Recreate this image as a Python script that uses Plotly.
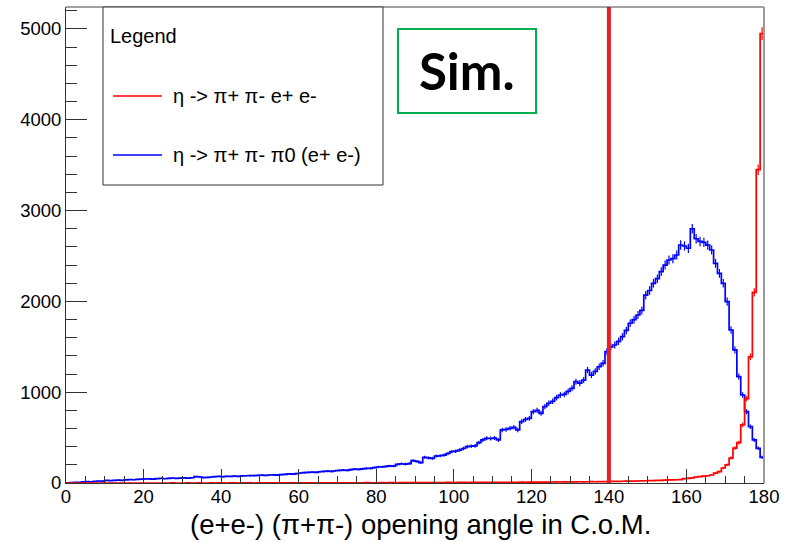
import plotly.graph_objects as go
import numpy as np

# ---------------- data ----------------
bin_edges_lo = list(range(0, 180))          # 1-degree bins, left edges
x_max = 180
cut_angle = 140

blue_counts = [
    2, 4, 6, 8, 12, 15, 14, 18, 22, 20,
    28, 26, 30, 32, 30, 35, 38, 36, 40, 42,
    44, 46, 43, 48, 50, 47, 52, 55, 50, 53,
    56, 54, 58, 70, 68, 60, 62, 66, 70, 72,
    70, 74, 72, 76, 73, 78, 80, 82, 81, 84,
    86, 83, 88, 90, 87, 92, 96, 100, 98, 104,
    110, 114, 117, 120, 118, 124, 127, 130, 128, 135,
    138, 142, 140, 148, 152, 150, 156, 160, 162, 170,
    176, 178, 182, 188, 186, 205, 212, 208, 214, 246,
    238, 224, 283, 276, 272, 297, 300, 308, 325, 345,
    350, 363, 380, 400, 405, 408, 444, 474, 492, 490,
    495, 474, 584, 590, 602, 613, 584, 675, 700, 712,
    785, 800, 767, 840, 878, 900, 940, 969, 975, 1010,
    1043, 1116, 1100, 1134, 1244, 1189, 1230, 1280, 1318, 1446,
    1500, 1520, 1560, 1611, 1680, 1759, 1800, 1850, 1900, 2070,
    2120, 2199, 2250, 2327, 2400, 2456, 2470, 2511, 2621, 2610,
    2585, 2800, 2690, 2660, 2650, 2620, 2566, 2419, 2309, 2199,
    1997, 1685, 1465, 1171, 969, 785, 620, 474, 382, 283,
]

red_counts = [
    0, 0, 0, 0, 0, 0, 0, 0, 0, 0,
    0, 0, 0, 0, 0, 0, 0, 0, 0, 0,
    0, 0, 0, 0, 0, 0, 0, 1, 0, 0,
    0, 1, 0, 0, 1, 0, 0, 1, 0, 1,
    1, 0, 1, 1, 0, 1, 1, 1, 0, 1,
    1, 1, 2, 1, 1, 2, 1, 2, 2, 1,
    2, 2, 1, 2, 2, 3, 2, 2, 3, 2,
    3, 2, 3, 3, 2, 3, 3, 4, 3, 3,
    3, 4, 3, 4, 4, 3, 4, 4, 5, 4,
    4, 5, 4, 5, 5, 4, 5, 5, 6, 5,
    5, 6, 6, 5, 6, 6, 7, 6, 7, 7,
    7, 7, 8, 7, 8, 8, 8, 9, 8, 9,
    9, 10, 9, 10, 10, 11, 12, 11, 12, 13,
    12, 13, 14, 13, 14, 15, 14, 15, 16, 16,
    17, 18, 18, 19, 20, 21, 20, 22, 24, 25,
    26, 27, 28, 30, 32, 34, 35, 36, 38, 48,
    52, 56, 66, 70, 75, 80, 88, 108, 125, 165,
    200, 275, 385, 445, 640, 930, 1390, 2100, 3450, 4950,
]

x_ticks = [0, 20, 40, 60, 80, 100, 120, 140, 160, 180]
y_ticks = [0, 1000, 2000, 3000, 4000, 5000]
y_max = 5242

label_red = "η -> π+ π- e+ e-"
label_blue = "η -> π+ π- π0 (e+ e-)"
x_title = "(e+e-) (π+π-) opening angle in C.o.M."

# ---------------- geometry helpers (pixels -> paper) ----------------
W, H = 785, 542
PL, PR, PT, PB = 66, 764, 7, 483


def px(x):
    return (x - PL) / (PR - PL)


def py(y):
    return (PB - y) / (PB - PT)


FONT = "Liberation Sans, Arial, Helvetica, sans-serif"
BLUE = "#0000ff"
RED = "#ff0000"

fig = go.Figure()


def add_hist(counts, color):
    edges = bin_edges_lo + [x_max]
    ys = list(counts) + [counts[-1]]
    fig.add_trace(go.Scatter(
        x=edges, y=ys, mode="lines", line=dict(color=color, width=1.7, shape="hv"),
        showlegend=False, hoverinfo="skip"))
    centers = [e + 0.5 for e in bin_edges_lo]
    fig.add_trace(go.Scatter(
        x=centers, y=counts, mode="markers", marker=dict(size=0.1, color=color),
        error_y=dict(type="data", array=np.sqrt(np.array(counts, dtype=float)),
                     width=0, thickness=1.2, color=color),
        showlegend=False, hoverinfo="skip"))


add_hist(blue_counts, BLUE)
add_hist(red_counts, RED)

shapes = []
# cut line
shapes.append(dict(type="line", xref="x", yref="paper", x0=cut_angle, x1=cut_angle,
                   y0=0, y1=1, line=dict(color="rgb(236,28,36)", width=4)))
# frame top / right
shapes.append(dict(type="line", xref="paper", yref="paper", x0=0, x1=1, y0=1, y1=1,
                   line=dict(color="#444444", width=1)))
shapes.append(dict(type="line", xref="paper", yref="paper", x0=1, x1=1, y0=0, y1=1,
                   line=dict(color="#9a9a9a", width=2)))
# legend box
shapes.append(dict(type="rect", xref="paper", yref="paper", x0=px(103), x1=px(383),
                   y0=py(185), y1=py(7), line=dict(color="#333333", width=1),
                   fillcolor="white"))
shapes.append(dict(type="line", xref="paper", yref="paper", x0=px(113), x1=px(162),
                   y0=py(96), y1=py(96), line=dict(color=RED, width=1.6)))
shapes.append(dict(type="line", xref="paper", yref="paper", x0=px(113), x1=px(162),
                   y0=py(155), y1=py(155), line=dict(color=BLUE, width=1.6)))
# Sim. box
shapes.append(dict(type="rect", xref="paper", yref="paper", x0=px(398), x1=px(536),
                   y0=py(113), y1=py(29), line=dict(color="#00b050", width=2),
                   fillcolor="rgba(0,0,0,0)"))

annotations = [
    dict(text="Legend", xref="paper", yref="paper", x=px(108), y=py(36),
         xanchor="left", yanchor="middle", showarrow=False,
         font=dict(family=FONT, size=20, color="black")),
    dict(text=label_red, xref="paper", yref="paper", x=px(171), y=py(96),
         xanchor="left", yanchor="middle", showarrow=False,
         font=dict(family=FONT, size=20, color="black")),
    dict(text=label_blue, xref="paper", yref="paper", x=px(171), y=py(155),
         xanchor="left", yanchor="middle", showarrow=False,
         font=dict(family=FONT, size=20, color="black")),
    dict(text="<b>Sim.</b>", xref="paper", yref="paper", x=px(467), y=py(71),
         xanchor="center", yanchor="middle", showarrow=False,
         font=dict(family="Lato, Open Sans, sans-serif", size=51, color="black")),
    dict(text=x_title, xref="paper", yref="paper", x=px(420), y=py(524),
         xanchor="center", yanchor="middle", showarrow=False,
         font=dict(family=FONT, size=27.5, color="black")),
]

fig.update_layout(
    width=W, height=H,
    margin=dict(l=PL, r=W - PR, t=PT, b=H - PB, pad=0),
    paper_bgcolor="white", plot_bgcolor="white",
    shapes=shapes, annotations=annotations, showlegend=False,
    xaxis=dict(range=[0, x_max], tickvals=x_ticks, ticks="inside", ticklen=14,
               tickwidth=1, tickcolor="#333333", showline=True, linecolor="#333333",
               linewidth=1, showgrid=False, zeroline=False, ticklabelstandoff=-3,
               tickfont=dict(family=FONT, size=18.5, color="black"),
               minor=dict(ticks="inside", ticklen=7, dtick=5, tick0=0,
                          tickcolor="#333333", showgrid=False)),
    yaxis=dict(range=[0, y_max], tickvals=y_ticks, ticks="inside", ticklen=21,
               tickwidth=1, tickcolor="#333333", showline=True, linecolor="#333333",
               linewidth=1, showgrid=False, zeroline=False,
               tickfont=dict(family=FONT, size=18.5, color="black"),
               minor=dict(ticks="inside", ticklen=11, dtick=200, tick0=0,
                          tickcolor="#333333", showgrid=False)),
)

fig.write_html("out.html")
